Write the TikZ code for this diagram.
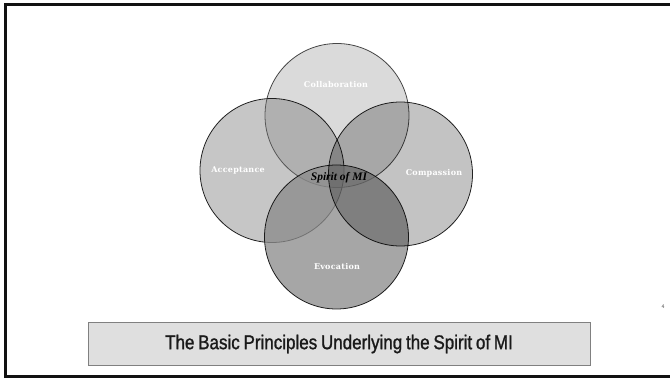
\documentclass[tikz,border=0pt]{standalone}
\usepackage{fontspec}
\usepackage{xcolor}
\usepackage{tikz}
\newfontfamily\labelfont[LetterSpace=3]{DejaVu Serif}
\newfontfamily\spiritfont{Liberation Serif}
\newfontfamily\titlefont[FakeStretch=0.85,FakeBold=1.2,WordSpace=0.8]{Liberation Sans}
\definecolor{framegray}{HTML}{111111}
\definecolor{boxgray}{HTML}{DFDFDF}
\definecolor{boxline}{HTML}{808080}
\definecolor{titleink}{HTML}{1A1A1A}
\definecolor{acceptfill}{HTML}{727272}
\definecolor{evocfill}{HTML}{8B8B8B}

\begin{document}
\begin{tikzpicture}[x=1pt,y=1pt,
    petal/.style={circle,draw=black,draw opacity=0.85,line width=0.8pt,
      fill=black,minimum size=144pt,inner sep=0pt},
    petaltext/.style={text=white,font=\labelfont\bfseries\fontsize{8}{9}\selectfont}]
  \useasboundingbox (0,0) rectangle (670,378);
  % slide frame, open on the right
  \draw[framegray,line width=3pt] (673,373.5) -- (5.5,373.5) -- (5.5,2) -- (673,2);
  % the four overlapping circles
  \node[petal,draw opacity=0.7,fill opacity=0.145] (collab) at (337,262.5) {};
  \node[petal,fill=acceptfill,fill opacity=0.405] (accept) at (272,207.5) {};
  \node[petal,fill=evocfill,fill opacity=0.77] (evoc) at (336.5,141) {};
  \node[petal,fill opacity=0.236] (compas) at (400.5,204) {};
  \node[petaltext] (collablbl) at (336,293) {Collaboration};
  \node[petaltext] (acceptlbl) at (238,208) {Acceptance};
  \node[petaltext] (compaslbl) at (434,205) {Compassion};
  \node[petaltext] (evoclbl)   at (337,111) {Evocation};
  \node[font=\spiritfont\bfseries\itshape\fontsize{11.5}{12}\selectfont] (spirit) at (339,200) {Spirit of MI};
  % caption bar
  \node[draw=boxline,fill=boxgray,line width=1pt,minimum width=502pt,minimum height=42pt,
    text=titleink,font=\titlefont\fontsize{20}{22}\selectfont] (title) at (339,34)
    {The Basic Principles Underlying the Spirit of MI};
  \node[font=\sffamily\fontsize{5.5}{6}\selectfont,text=black!70] (pagenum) at (663,71) {4};
\end{tikzpicture}
\end{document}
